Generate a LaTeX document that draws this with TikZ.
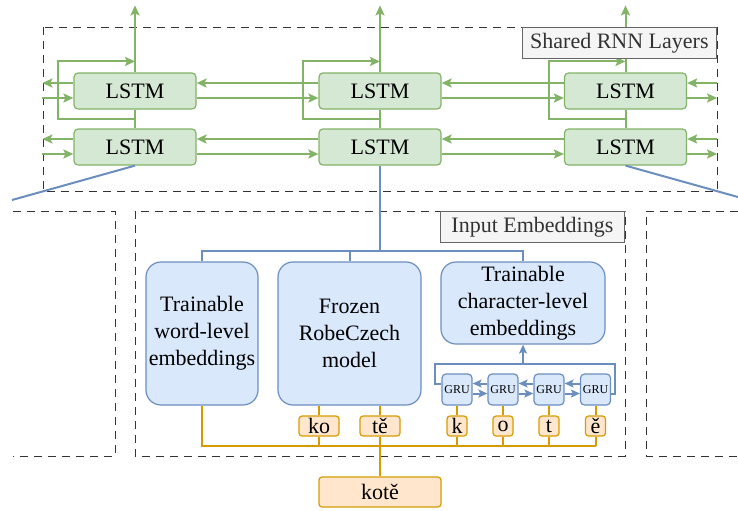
\documentclass[tikz,border=0pt]{standalone}
\usepackage{fontspec}
\setmainfont{Liberation Serif}
\newfontfamily\diagfont{Liberation Serif}
\usepackage{tikz}
\usetikzlibrary{positioning,arrows.meta,calc}

\definecolor{grnfill}{HTML}{D5E8D4}
\definecolor{grnline}{HTML}{82B366}
\definecolor{bluefill}{HTML}{DAE8FC}
\definecolor{blueline}{HTML}{6C8EBF}
\definecolor{orgfill}{HTML}{FFE6CC}
\definecolor{orgline}{HTML}{D79B00}
\definecolor{tagfill}{HTML}{F5F5F5}
\definecolor{tagline}{HTML}{666666}
\definecolor{tagtext}{HTML}{333333}

\tikzset{
  lstm/.style={draw=grnline, fill=grnfill, rounded corners=2pt, line width=0.6pt,
    minimum width=61pt, minimum height=18pt, inner sep=0pt},
  emb/.style={draw=blueline, fill=bluefill, rounded corners=7.5pt, line width=0.6pt,
    align=center, inner sep=0pt},
  gru/.style={draw=blueline, fill=bluefill, rounded corners=2pt, line width=0.6pt,
    minimum width=15pt, minimum height=15.5pt, inner sep=0pt,
    font=\diagfont\fontsize{6}{7}\selectfont},
  tok/.style={draw=orgline, fill=orgfill, rounded corners=1.5pt, line width=0.6pt,
    minimum height=10pt, inner sep=0pt},
  tag/.style={draw=tagline, fill=tagfill, text=tagtext, line width=0.6pt,
    minimum height=15.5pt, inner sep=0pt, anchor=north east},
  dashbox/.style={draw=black!80, line width=0.5pt, dash pattern=on 4pt off 3pt},
  gline/.style={draw=grnline, line width=1pt},
  garrow/.style={gline, -{Stealth[length=5pt,width=4.5pt,inset=1pt]}},
  bline/.style={draw=blueline, line width=1pt},
  barrow/.style={bline, -{Stealth[length=4.5pt,width=4pt,inset=1pt]}},
  oline/.style={draw=orgline, line width=1pt},
}

\begin{document}
\begin{tikzpicture}[x=0.5pt,y=-0.5pt,font=\diagfont\fontsize{11}{13.5}\selectfont]
    \useasboundingbox (0,0) rectangle (738,510);
    \pgfmathsetmacro{\up}{4}
    \pgfmathsetmacro{\dn}{-3.5}

    % Shared RNN layers
    \draw [dashbox] (43,27) rectangle (717,191);
    \foreach \n/\x in {a/135,b/380,c/625.5} {
        \node [lstm] (up\n) at (\x,91) {LSTM};
        \node [lstm] (lo\n) at (\x,147) {LSTM};
        \draw [gline] (lo\n.north) -- (up\n.south);
        \draw [garrow] ($(up\n.south)!0.5!(lo\n.north)$) -- ++(-77,0)
            |- ([yshift=5.5pt]up\n.north);
        \draw [garrow] (up\n.north) -- ++(0,-67);
    }
    \foreach \r in {up,lo} {
        % between the columns
        \draw [garrow] ([yshift=\up pt]\r b.west) -- ([yshift=\up pt]\r a.east);
        \draw [garrow] ([yshift=\dn pt]\r a.east) -- ([yshift=\dn pt]\r b.west);
        \draw [garrow] ([yshift=\up pt]\r c.west) -- ([yshift=\up pt]\r b.east);
        \draw [garrow] ([yshift=\dn pt]\r b.east) -- ([yshift=\dn pt]\r c.west);
        % left and right edges
        \draw [garrow] ([yshift=\up pt]\r a.west) -- ++(-31,0);
        \draw [garrow] ([yshift=\dn pt,xshift=-15.5pt]\r a.west) -- ([yshift=\dn pt]\r a.west);
        \draw [garrow] ([yshift=\up pt,xshift=15pt]\r c.east) -- ([yshift=\up pt]\r c.east);
        \draw [garrow] ([yshift=\dn pt]\r c.east) -- ++(30,0);
    }
    \node [tag, minimum width=97pt] (rnnlbl) at (717,27) {Shared RNN Layers};

    % Input embeddings
    \draw [dashbox] (13,211) -- (115,211) -- (115,456) -- (13,456);
    \draw [dashbox] (738,211) -- (646,211) -- (646,456) -- (738,456);
    \draw [dashbox] (135,211) rectangle (625,456);
    \node [tag, minimum width=92pt] (emblbl) at (625,211) {Input Embeddings};

    \node [emb, minimum width=56pt, minimum height=71.5pt] (word) at (202,333.5)
        {Trainable\\word-level\\embeddings};
    \node [emb, minimum width=71.5pt, minimum height=71.5pt] (frozen) at (349.5,333.5)
        {Frozen\\RobeCzech\\model};
    \node [emb, minimum width=82pt, minimum height=41pt] (char) at (523,303)
        {Trainable\\character-level\\embeddings};

    % blue links
    \draw [bline] (loa.south) -- (12,200);
    \draw [bline] (loc.south) -- (738,197);
    \coordinate (split) at (380,251);
    \draw [bline] (lob.south) -- (split);
    \draw [bline] (word.north) |- (split) -| (char.north);
    \draw [bline] (frozen.north) -- (frozen.north |- split);

    % character GRUs
    \foreach \i/\x in {1/457,2/503,3/549,4/595.5}
        \node [gru] (g\i) at (\x,389.5) {GRU};
    \foreach \i/\j in {1/2,2/3,3/4} {
        \draw [barrow] ([yshift=3pt]g\j.west) -- ([yshift=3pt]g\i.east);
        \draw [barrow] ([yshift=-2pt]g\i.east) -- ([yshift=-2pt]g\j.west);
    }
    \coordinate (gtop) at (615,364);
    \draw [bline] ([yshift=2.75pt]g1.west) -- ++(-6,0) |- (gtop)
        |- ([yshift=-2.25pt]g4.east);
    \draw [barrow] (char.south |- gtop) -- (char.south);

    % tokens
    \coordinate (bus) at (0,446);
    \node [tok, minimum width=20pt] (ko) at (319,426) {ko};
    \node [tok, minimum width=20pt] (te) at (380,426) {tě};
    \node [tok, minimum width=61pt, minimum height=15pt] (kote) at (380,492) {kotě};
    \draw [oline] (word.south) |- (595.5,446);
    \draw [oline] (ko.north) -- (ko.north |- frozen.south);
    \draw [oline] (ko.south) -- (ko.south |- bus);
    \draw [oline] (te.north) -- (te.north |- frozen.south);
    \draw [oline] (te.south) -- (kote.north);
    \foreach \i/\c in {1/k,2/o,3/t,4/ě} {
        \node [tok, minimum width=10pt] (c\i) at (g\i |- ko) {\c};
        \draw [oline] (c\i.north) -- (g\i.south);
        \draw [oline] (c\i.south) -- (c\i.south |- bus);
    }
\end{tikzpicture}
\end{document}
